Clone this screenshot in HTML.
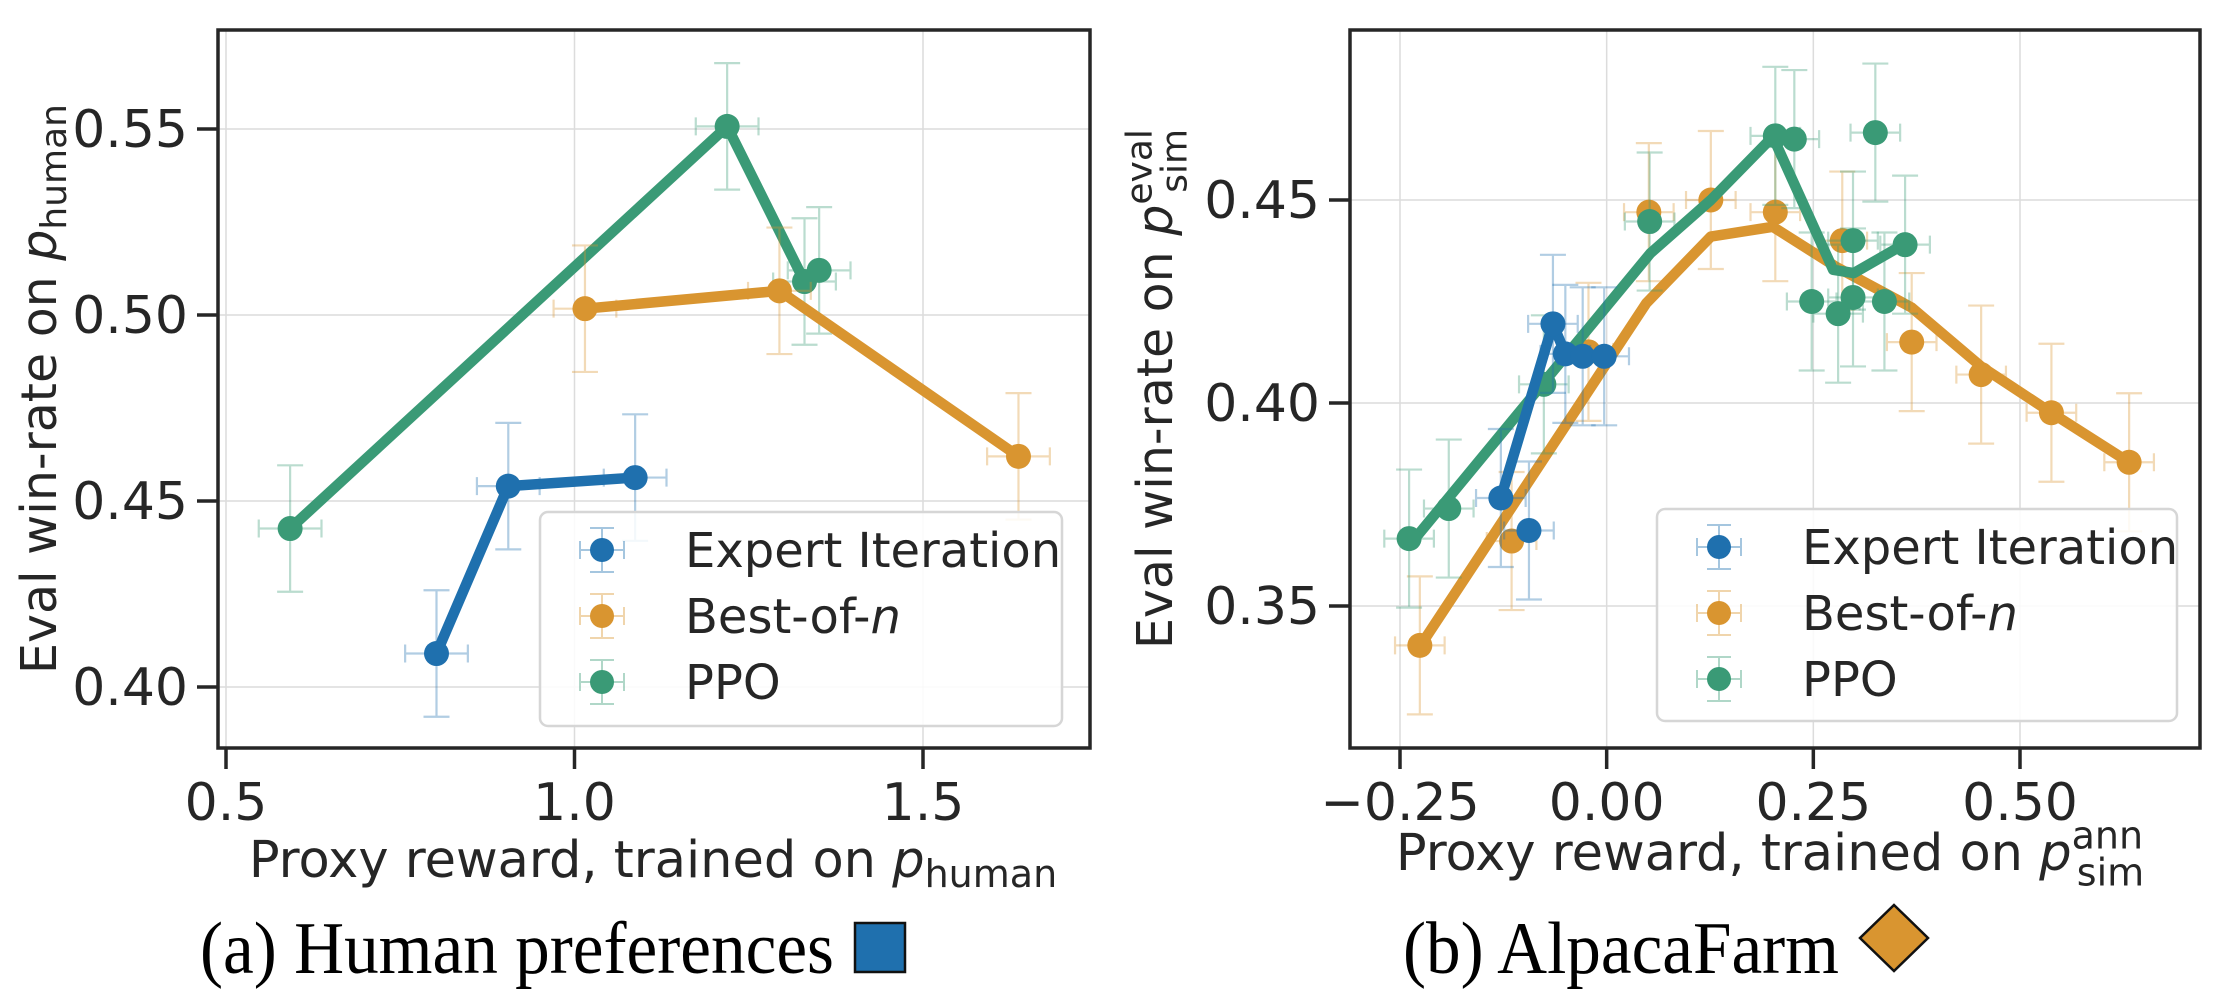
<!DOCTYPE html>
<html><head><meta charset="utf-8"><style>
html,body{margin:0;padding:0;background:#fff;}
svg{display:block;}
text{font-family:"DejaVu Sans","Liberation Sans",sans-serif;fill:#262626;}
.cap{font-family:"Liberation Serif",serif;fill:#000;}
</style></head><body>
<svg id="fig" width="2228" height="1000" viewBox="0 0 2228 1000" xmlns="http://www.w3.org/2000/svg">
<g id="pa"></g>
<g id="pb"></g>
<text class="cap" x="200" y="973" font-size="74" textLength="634" lengthAdjust="spacingAndGlyphs">(a) Human preferences</text>
<rect x="855" y="923" width="50" height="49" fill="#1f70ae" stroke="#111" stroke-width="2.5"/>
<text class="cap" x="1403" y="973" font-size="74" textLength="436" lengthAdjust="spacingAndGlyphs">(b) AlpacaFarm</text>
<polygon points="1894,905 1928,938 1894,971 1860,938" fill="#d99530" stroke="#111" stroke-width="2.5"/>
</svg>
<script>
// ---- Panel A data ----
const aXTicks = [0.5, 1.0, 1.5];
const aXTickLabels = ["0.5", "1.0", "1.5"];
const aYTicks = [0.40, 0.45, 0.50, 0.55];
const aYTickLabels = ["0.40", "0.45", "0.50", "0.55"];
const aExpertX = [0.802, 0.905, 1.087];
const aExpertY = [0.409, 0.454, 0.4563];
const aBonX = [1.015, 1.294, 1.637];
const aBonY = [0.5017, 0.5065, 0.462];
const aPpoX = [0.592, 1.219, 1.330, 1.351];
const aPpoY = [0.4426, 0.5507, 0.509, 0.512];
const aXErr = 0.045;
const aYErr = 0.017;

// ---- Panel B data ----
const bXTicks = [-0.25, 0.0, 0.25, 0.5];
const bXTickLabels = ["\u22120.25", "0.00", "0.25", "0.50"];
const bYTicks = [0.35, 0.40, 0.45];
const bYTickLabels = ["0.35", "0.40", "0.45"];
const bExpertPtX = [-0.128, -0.065, -0.050, -0.029, -0.003, -0.094];
const bExpertPtY = [0.3766, 0.4195, 0.4121, 0.4115, 0.4115, 0.3686];
const bExpertLineX = [-0.128, -0.065, -0.050, -0.029, -0.003];
const bExpertLineY = [0.3766, 0.4195, 0.4121, 0.4115, 0.4115];
const bBonPtX = [-0.226, -0.115, -0.022, 0.051, 0.126, 0.204, 0.285, 0.369, 0.453, 0.538, 0.632];
const bBonPtY = [0.3403, 0.366, 0.4126, 0.447, 0.450, 0.447, 0.440, 0.415, 0.407, 0.3976, 0.3854];
const bBonLineX = [-0.226, 0.048, 0.126, 0.201, 0.277, 0.369, 0.453, 0.538, 0.632];
const bBonLineY = [0.340, 0.4246, 0.441, 0.4434, 0.4336, 0.4235, 0.409, 0.3976, 0.3854];
const bPpoPtX = [-0.239, -0.191, -0.076, 0.052, 0.204, 0.227, 0.325, 0.248, 0.280, 0.298, 0.298, 0.336, 0.361];
const bPpoPtY = [0.3666, 0.374, 0.4046, 0.4447, 0.4658, 0.465, 0.4666, 0.425, 0.422, 0.426, 0.440, 0.425, 0.439];
const bPpoLineX = [-0.236, 0.053, 0.126, 0.201, 0.274, 0.299, 0.358];
const bPpoLineY = [0.3656, 0.4369, 0.450, 0.4656, 0.4328, 0.432, 0.4389];
const bXErr = 0.03;
const bYErr = 0.017;

const C_BLUE = "#1f70ae", C_ORANGE = "#d99530", C_GREEN = "#3a9a76";
const NS = "http://www.w3.org/2000/svg";
function mk(tag, attrs, parent) {
  const e = document.createElementNS(NS, tag);
  for (const k in attrs) e.setAttribute(k, attrs[k]);
  parent.appendChild(e);
  return e;
}
function lin(d0, d1, p0, p1) { return v => p0 + (v - d0) * (p1 - p0) / (d1 - d0); }

function drawPanel(g, cfg) {
  const { L, R, T, B, sx, sy } = cfg;
  cfg.xTicks.forEach((t, i) => {
    const gl = mk("line", { x1: sx(t), x2: sx(t), y1: T, y2: B, stroke: "#dcdcdc", "stroke-width": 1.5 }, g);
    
    
    const tk = mk("line", { x1: sx(t), x2: sx(t), y1: B, y2: B + 21, stroke: "#262626", "stroke-width": 3.5 }, g);
    
    
    const tl = mk("text", { x: sx(t), y: B + 72, "font-size": 52, "text-anchor": "middle" }, g);
    tl.textContent = cfg.xTickLabels[i];
    
    
  });
  cfg.yTicks.forEach((t, i) => {
    const gl = mk("line", { x1: L, x2: R, y1: sy(t), y2: sy(t), stroke: "#dcdcdc", "stroke-width": 1.5 }, g);
    
    
    const tk = mk("line", { x1: L - 21, x2: L, y1: sy(t), y2: sy(t), stroke: "#262626", "stroke-width": 3.5 }, g);
    
    
    const tl = mk("text", { x: L - 30, y: sy(t) + 18, "font-size": 52, "text-anchor": "end" }, g);
    tl.textContent = cfg.yTickLabels[i];
    
    
  });
  cfg.series.forEach(s => {
    const sg = mk("g", {}, g);
    
    
    s.px.forEach((x, i) => {
      const y = s.py[i];
      const cx = sx(x), cy = sy(y);
      const x0 = sx(x - cfg.xErr), x1 = sx(x + cfg.xErr), y0 = sy(y - cfg.yErr), y1 = sy(y + cfg.yErr);
      const eb = mk("path", { d: `M${x0},${cy}H${x1}M${x0},${cy-9}V${cy+9}M${x1},${cy-9}V${cy+9}M${cx},${y0}V${y1}M${cx-13},${y0}H${cx+13}M${cx-13},${y1}H${cx+13}`, stroke: s.color, "stroke-width": 2.2, fill: "none", opacity: 0.35 }, sg);
      
      
    });
    const pts = s.lx.map((x, i) => sx(x) + "," + sy(s.ly[i])).join(" ");
    const pl = mk("polyline", { points: pts, fill: "none", stroke: s.color, "stroke-width": 10.5, "stroke-linejoin": "round", "stroke-linecap": "round" }, sg);
    
    
    s.px.forEach((x, i) => {
      const c = mk("circle", { cx: sx(x), cy: sy(s.py[i]), r: 12.5, fill: s.color }, sg);
      
      
    });
  });
  const fr = mk("rect", { x: L, y: T, width: R - L, height: B - T, fill: "none", stroke: "#262626", "stroke-width": 3.5 }, g);
  
  
  const lg = mk("g", {}, g);
  
  
  const lb = cfg.legend;
  mk("rect", { x: lb.x, y: lb.y, width: lb.w, height: lb.h, rx: 8, fill: "#fff", "fill-opacity": 0.85, stroke: "#d6d6d6", "stroke-width": 2.5 }, lg);
  const names = ["Expert Iteration", "Best-of-", "PPO"];
  const cols = [C_BLUE, C_ORANGE, C_GREEN];
  names.forEach((n, i) => {
    const ey = lb.y + 38 + i * 66, mx = lb.x + 62;
    const le = mk("g", {}, lg);
    
    
    mk("path", { d: `M${mx-22},${ey}H${mx+22}M${mx-22},${ey-9}V${ey+9}M${mx+22},${ey-9}V${ey+9}M${mx},${ey-22}V${ey+22}M${mx-12},${ey-22}H${mx+12}M${mx-12},${ey+22}H${mx+12}`, stroke: cols[i], "stroke-width": 2, fill: "none", opacity: 0.4 }, le);
    mk("circle", { cx: mx, cy: ey, r: 12, fill: cols[i] }, le);
    const t = mk("text", { x: lb.x + 145, y: ey + 17, "font-size": 48 }, le);
    t.textContent = n;
    if (i === 1) { const ts = mk("tspan", { "font-style": "italic" }, t); ts.textContent = "n"; }
  });
}

const pa = document.getElementById("pa");
drawPanel(pa, {
  L: 218, R: 1090, T: 30, B: 748,
  sx: lin(0.5, 1.5, 226, 923), sy: lin(0.40, 0.55, 687, 129),
  xTicks: aXTicks, xTickLabels: aXTickLabels, yTicks: aYTicks, yTickLabels: aYTickLabels,
  xErr: aXErr, yErr: aYErr,
  series: [
    { name: "ppo", color: C_GREEN, px: aPpoX, py: aPpoY, lx: aPpoX, ly: aPpoY },
    { name: "best-of-n", color: C_ORANGE, px: aBonX, py: aBonY, lx: aBonX, ly: aBonY },
    { name: "expert-iteration", color: C_BLUE, px: aExpertX, py: aExpertY, lx: aExpertX, ly: aExpertY }
  ],
  legend: { x: 540, y: 512, w: 522, h: 214 }
});
const pb = document.getElementById("pb");
drawPanel(pb, {
  L: 1350, R: 2200, T: 30, B: 748,
  sx: lin(-0.25, 0.5, 1400, 2020), sy: lin(0.35, 0.45, 606, 200),
  xTicks: bXTicks, xTickLabels: bXTickLabels, yTicks: bYTicks, yTickLabels: bYTickLabels,
  xErr: bXErr, yErr: bYErr,
  series: [
    { name: "best-of-n", color: C_ORANGE, px: bBonPtX, py: bBonPtY, lx: bBonLineX, ly: bBonLineY },
    { name: "ppo", color: C_GREEN, px: bPpoPtX, py: bPpoPtY, lx: bPpoLineX, ly: bPpoLineY },
    { name: "expert-iteration", color: C_BLUE, px: bExpertPtX, py: bExpertPtY, lx: bExpertLineX, ly: bExpertLineY }
  ],
  legend: { x: 1657, y: 509, w: 520, h: 212 }
});

function axTitle(parent, name, x, y, rot, main, it, sub, sup, fs) {
  const t = mk("text", { x: x, y: y, "font-size": fs, "text-anchor": "middle" }, parent);
  if (rot) t.setAttribute("transform", `rotate(-90 ${x} ${y})`);
  
  
  const a = mk("tspan", {}, t); a.textContent = main;
  const p = mk("tspan", { "font-style": "italic" }, t); p.textContent = it;
  const ss = Math.round(fs * 0.74);
  if (sup) {
    const s1 = mk("tspan", { "font-size": ss, dy: -0.42 * fs }, t); s1.textContent = sup;
    const s2 = mk("tspan", { "font-size": ss, dx: -1.3 * fs, dy: 0.72 * fs }, t); s2.textContent = sub;
  } else {
    const s = mk("tspan", { "font-size": ss, dy: 0.2 * fs }, t); s.textContent = sub;
  }
}
const fig = document.getElementById("fig");
axTitle(fig, "y-axis-title-a", 56, 389, true, "Eval win-rate on ", "p", "human", null, 49);
axTitle(fig, "x-axis-title-a", 653, 877, false, "Proxy reward, trained on ", "p", "human", null, 51);
axTitle(fig, "y-axis-title-b", 1172, 389, true, "Eval win-rate on ", "p", "sim", "eval", 49);
axTitle(fig, "x-axis-title-b", 1770, 870, false, "Proxy reward, trained on ", "p", "sim", "ann", 51);
</script>
</body></html>
